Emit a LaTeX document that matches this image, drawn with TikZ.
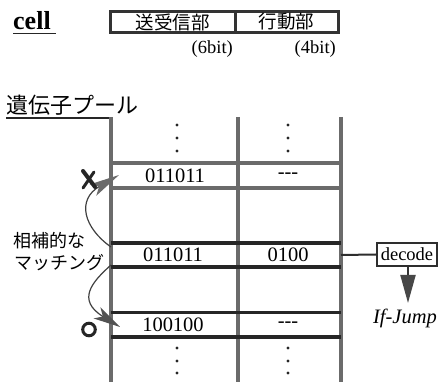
\documentclass[tikz,border=0pt]{standalone}
\usepackage{fontspec}
\setmainfont{Liberation Serif}
\newfontfamily\jp{Noto Sans CJK JP}
\usetikzlibrary{arrows.meta}
\begin{document}
\begin{tikzpicture}[x=1pt,y=1pt,
  txt/.style={inner sep=0pt, font=\fontsize{20.5}{24}\selectfont},
  small/.style={inner sep=0pt, font=\fontsize{18.5}{22}\selectfont},
  jptxt/.style={inner sep=0pt, font=\jp\fontsize{18}{22}\selectfont},
  topbox/.style={draw=black!80, line width=3pt, inner sep=0pt, minimum height=21pt, font=\jp\fontsize{18.5}{22}\selectfont},
  texline/.style={draw=black!58, line width=4pt},
  solidline/.style={draw=black!85, line width=3.4pt},
  ul/.style={draw=black!85, line width=1.6pt},
  dotmark/.style={fill=black!85},
  curve/.style={draw=black!75, line width=1.2pt},
]
\useasboundingbox (0,0) rectangle (440,-382);

% --- cell
\node[inner sep=0pt, anchor=base west, font=\bfseries\fontsize{26}{30}\selectfont] (cell) at (13,-30) {cell};
\draw[ul] (13,-33.5) -- (56,-33.5);
\node[topbox, minimum width=125pt] (send) at (172.5,-22) {送受信部};
\node[topbox, minimum width=103pt] (act) at (286.5,-22) {行動部};
\node[small, anchor=base east] (b6) at (233,-54) {(6bit)};
\node[small, anchor=base east] (b4) at (336,-54) {(4bit)};

% --- gene pool
\node[inner sep=0pt, anchor=base west, font=\jp\fontsize{22}{26}\selectfont] (pool) at (6,-114) {遺伝子プール};
\draw[ul] (6,-118) -- (111,-118);

% columns
\draw[texline] (111,-117) -- (111,-382);
\draw[texline] (238,-117) -- (238,-382);
\draw[texline] (341,-117) -- (341,-382);

% dots
\foreach \y in {125,138,151,348,361,373} {
  \fill[dotmark] (177,-\y) circle (1.7);
  \fill[dotmark] (288,-\y) circle (1.7);
}

% row 1 (textured)
\draw[texline] (111,-163) -- (341,-163);
\draw[texline] (111,-188) -- (341,-188);
\node[txt] (r1a) at (175,-175.5) {011011};
\node[txt] (r1b) at (288,-175.5) {\hbox{-}\hbox{-}\hbox{-}};

% row 2
\draw[solidline] (111,-243) -- (341,-243);
\draw[solidline] (111,-267) -- (341,-267);
\node[txt] (r2a) at (173,-255) {011011};
\node[txt] (r2b) at (288,-255) {0100};

% row 3
\draw[solidline] (111,-312.5) -- (341,-312.5);
\draw[solidline] (111,-337) -- (341,-337);
\node[txt] (r3a) at (173,-325) {100100};
\node[txt] (r3b) at (288,-325) {\hbox{-}\hbox{-}\hbox{-}};

% decode
\coordinate (r2end) at (341,-255);
\node[draw=black!82, line width=2pt, inner sep=0pt, minimum width=60pt, minimum height=23pt, font=\fontsize{18.5}{22}\selectfont] (dec) at (407,-254.5) {decode};
\draw[draw=black!82, line width=2pt] (r2end) -- (dec.west);
\node[inner sep=0pt, font=\itshape\fontsize{20.5}{24}\selectfont] (jump) at (405,-318) {If-Jump};
\coordinate (jtip) at (408,-303);
\draw[draw=black!80, line width=2pt, -{Triangle[length=28pt,width=15pt,color=black!72]}] (dec.south -| jtip) -- (jtip);

% left labels
\node[jptxt, anchor=west] (l1) at (13,-240.5) {相補的な};
\node[jptxt, anchor=west] (l2) at (14,-263) {マッチング};

% curved arrows
\coordinate (cstart1) at (111,-247);
\coordinate (ctip1) at (119,-175);
\draw[curve, -{Stealth[length=30pt,width=13pt,inset=7pt,color=black!58]}]
  (cstart1) .. controls (84,-228) and (76,-200) .. (ctip1);
\coordinate (cstart2) at (111,-265);
\coordinate (ctip2) at (120,-327);
\draw[curve, -{Stealth[length=27pt,width=13pt,inset=7pt,color=black!68]}]
  (cstart2) .. controls (92,-282) and (76,-300) .. (ctip2);

% X and O marks
\draw[draw=black!85, line width=4pt, line cap=round] (83,-171) -- (95,-187);
\draw[draw=black!85, line width=3pt, line cap=round] (83,-188) -- (94,-172);
\draw[draw=black!85, line width=3pt] (89,-329.5) circle (6.3);
\end{tikzpicture}
\end{document}
